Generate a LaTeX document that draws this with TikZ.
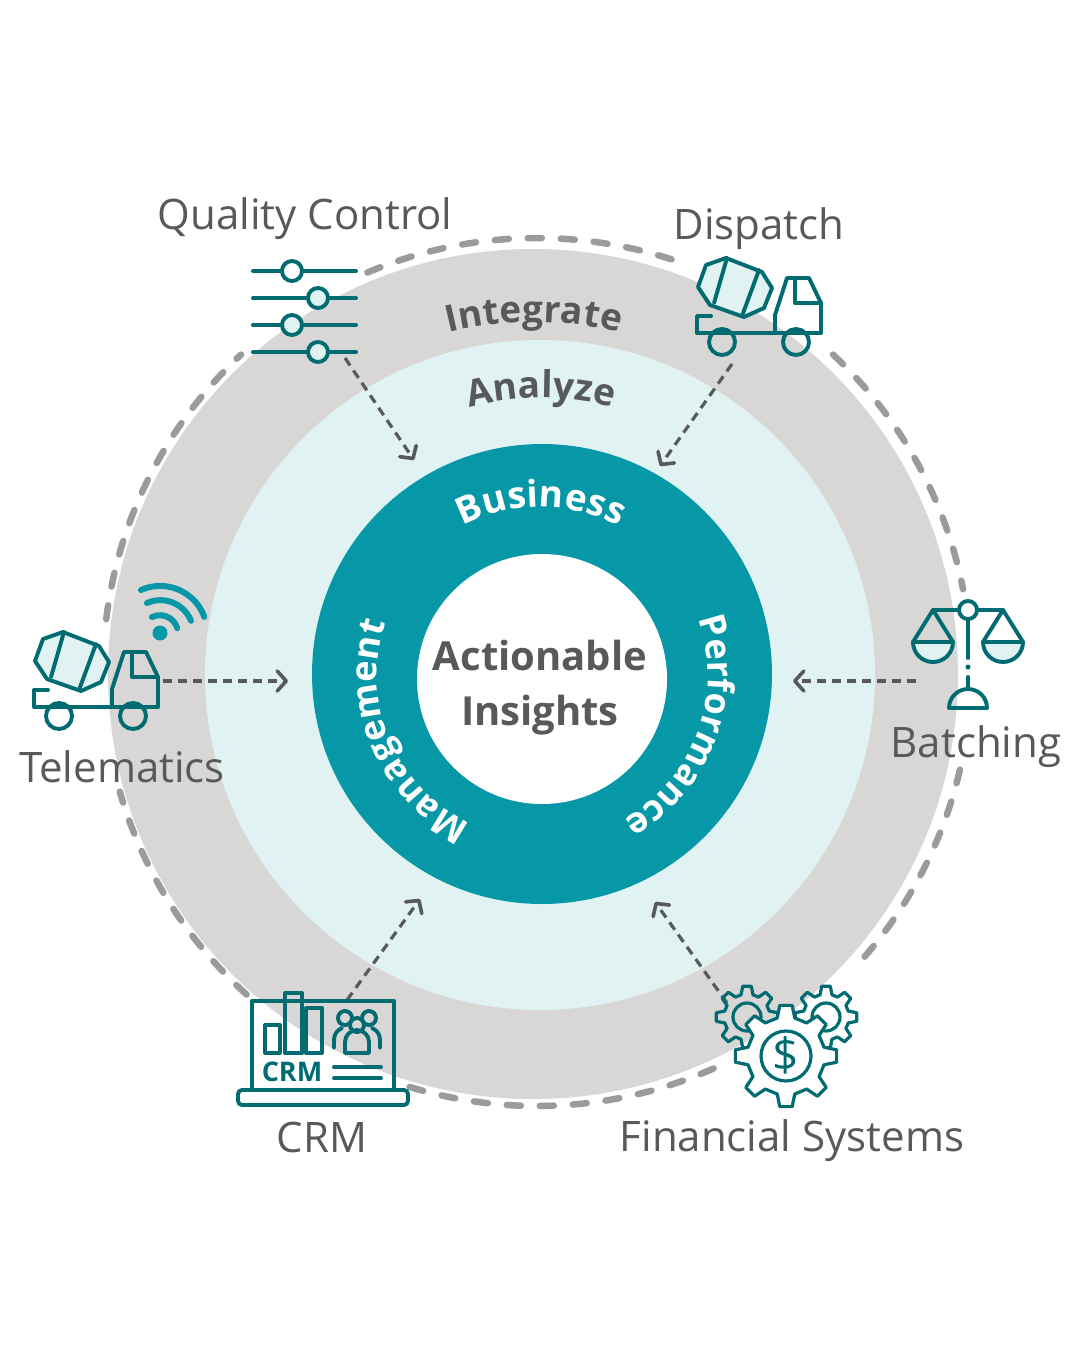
\documentclass[tikz,border=0pt]{standalone}
\usepackage{fontspec}
\setmainfont{Open Sans}
\usepackage{xcolor}
\usepackage{tikz}
\usetikzlibrary{arrows.meta}
\usetikzlibrary{decorations.text}

\definecolor{ringgrey}{HTML}{D9D7D6}
\definecolor{ringpale}{HTML}{E0F2F2}
\definecolor{ringteal}{HTML}{0798A8}
\definecolor{icondark}{HTML}{006B70}
\definecolor{dashgrey}{HTML}{9B9B9D}
\definecolor{inkgrey}{HTML}{58595B}

\newcommand{\ringfont}{\fontsize{40}{42}\selectfont\bfseries}
\newcommand{\curvefont}{\fontsize{37}{39}\selectfont\bfseries}
\newcommand{\sidefont}{\fontsize{36}{38}\selectfont\bfseries}

\begin{document}
\begin{tikzpicture}[x=1pt, y=-1pt,
    sourcelabel/.style={font=\fontsize{42}{44}\selectfont, text=inkgrey, inner sep=0pt},
    centrelabel/.style={font=\ringfont, text=inkgrey, inner sep=0pt},
    feed/.style={draw=inkgrey, line width=3.2pt, dash pattern=on 9pt off 6pt, -{Straight Barb[length=9pt,width=20pt,line width=3.6pt,round]}},
    dashring/.style={draw=dashgrey, line width=6.5pt, line cap=round, dash pattern=on 14pt off 19pt},
    iconline/.style={draw=icondark, line width=3.9pt, line join=round, line cap=round},
    ringtext/.style n args={3}{decorate, decoration={text along path, text align=center, text={|#1\color{#2}|#3}}},
    mixer/.pic={
        \draw[iconline, fill=ringpale] (2,30) -- (10,8) -- (30,1) -- (66,15) -- (76,31) -- (68,51) -- (48,60) -- (14,48) -- cycle;
        \draw[iconline] (31,1) -- (18,46);
        \draw[iconline] (63,13) -- (46,59);
        \draw[iconline] (79,76) -- (79,58) -- (91,21) -- (113,21) -- (125,46) -- (125,76);
        \draw[iconline] (99,21) -- (99,46) -- (125,46);
        \draw[iconline] (15,59) -- (1,59) -- (1,76) -- (125,76);
        \draw[iconline] (26,85) circle (13pt);
        \draw[iconline] (100,85) circle (13pt);
    }]
    \useasboundingbox (0,0) rectangle (1080,1350);
    \fill[white] (0,0) rectangle (1080,1350);

    % rings
    \fill[ringgrey] (533,674) circle (425pt);
    \fill[ringpale] (540,675) circle (335pt);
    \fill[ringteal] (542,674) circle (230pt);
    \fill[white] (542,679) circle (125pt);

    % outer dashes, broken at the icons
    \foreach \from/\to in {113/70, 47/11, -13/-43, -66/-108, 228/196, 173/133}
        \draw[dashring] ([shift={(537,672)}]\from:434pt) arc[start angle=\from, end angle=\to, radius=434pt];

    % ring words
    \path[ringtext={\curvefont}{inkgrey}{Integrate}] ([shift={(534,675)}]114:353pt) arc[start angle=114, end angle=66, radius=353pt];
    \path[ringtext={\curvefont}{inkgrey}{Analyze}] ([shift={(541,675)}]120:277pt) arc[start angle=120, end angle=60, radius=277pt];
    \path[ringtext={\curvefont}{white}{Business}] ([shift={(541,675)}]130:168pt) arc[start angle=130, end angle=50, radius=168pt];
    \path[ringtext={\sidefont}{white}{Performance}] ([shift={(542,675)}]37:166pt) arc[start angle=37, end angle=-78, radius=166pt];
    \path[ringtext={\sidefont}{white}{Management}] ([shift={(542,675)}]258:165pt) arc[start angle=258, end angle=148, radius=165pt];

    \node[centrelabel] (action) at (540,655) {Actionable};
    \node[centrelabel] (insight) at (540,715) {Insights};

    % arrow ends
    \coordinate (qcout) at (345,358);
    \coordinate (qcin) at (414,460);
    \coordinate (dispout) at (732,364);
    \coordinate (dispin) at (660,466);
    \coordinate (teleout) at (163,681);
    \coordinate (telein) at (288,681);
    \coordinate (batchout) at (916,681);
    \coordinate (batchin) at (793,681);
    \coordinate (crmout) at (347,1000);
    \coordinate (crmin) at (420,899);
    \coordinate (finout) at (727,1003);
    \coordinate (finin) at (655,902);
    \draw[feed] (qcout) -- (qcin);
    \draw[feed] (dispout) -- (dispin);
    \draw[feed] (teleout) -- (telein);
    \draw[feed] (batchout) -- (batchin);
    \draw[feed] (crmout) -- (crmin);
    \draw[feed] (finout) -- (finin);

    % quality control sliders
    \foreach \ypos/\xpos/\shade in {271/292/white, 298/318/ringpale, 325/292/ringpale, 352/318/ringpale} {
        \draw[iconline, line width=4pt] (253,\ypos) -- (356,\ypos);
        \draw[iconline, fill=\shade] (\xpos,\ypos) circle (10pt);
    }

    % trucks
    \pic (dispatch) at (696,257) {mixer};
    \pic (telematics) at (33,631) {mixer};

    % wifi
    \fill[ringteal] (160,633) circle (7.5pt);
    \draw[ringteal, line width=6pt, line cap=round] (141,590) arc[start angle=114, end angle=20, radius=47pt];
    \draw[ringteal, line width=6pt, line cap=round] (147,603) arc[start angle=114, end angle=22, radius=33pt];
    \draw[ringteal, line width=6pt, line cap=round] (152,617) arc[start angle=116, end angle=16, radius=18pt];

    % batching scales
    \draw[iconline, fill=ringpale] (913,642) arc[start angle=180, end angle=360, radius=20pt] -- cycle;
    \draw[iconline, fill=ringpale] (983,642) arc[start angle=180, end angle=360, radius=20pt] -- cycle;
    \draw[iconline] (913,642) -- (933,610) -- (953,642);
    \draw[iconline] (983,642) -- (1003,610) -- (1023,642);
    \draw[iconline] (933,610) -- (1003,610);
    \draw[iconline, fill=white] (968,610) circle (9pt);
    \draw[iconline] (968,619) -- (968,658);
    \fill[icondark] (968,667) circle (2.5pt);
    \draw[iconline] (968,677) -- (968,688);
    \draw[iconline] (949,708) arc[start angle=180, end angle=0, radius=19pt] -- cycle;

    % crm laptop
    \draw[iconline] (252,1089) -- (252,1001) -- (394,1001) -- (394,1089);
    \draw[iconline, rounded corners=4pt] (238,1090) -- (408,1090) -- (408,1105) -- (238,1105) -- cycle;
    \draw[iconline] (265,1025) rectangle (280,1053);
    \draw[iconline] (285,993) rectangle (302,1053);
    \draw[iconline] (306,1008) rectangle (322,1053);
    \draw[iconline] (345,1018) circle (7pt);
    \draw[iconline] (369,1018) circle (7pt);
    \draw[iconline] (334,1048) -- (334,1040) .. controls (334,1033) and (338,1030) .. (342,1028);
    \draw[iconline] (380,1048) -- (380,1040) .. controls (380,1033) and (376,1030) .. (372,1028);
    \draw[iconline] (345,1053) -- (345,1042) arc[start angle=180, end angle=0, radius=12pt] -- (369,1053) -- cycle;
    \draw[iconline] (357,1025) circle (7pt);
    \node[inner sep=0pt, text=icondark, font=\fontsize{27}{28}\selectfont\bfseries] (crmword) at (292,1072) {CRM};
    \draw[iconline] (334,1067) -- (381,1067);
    \draw[iconline] (334,1078) -- (381,1078);

    % financial gears
    \foreach \cx in {747,826} {
        \draw[iconline, line width=3.2pt] (\cx,1017) circle (14pt);
        \draw[iconline, line width=3.2pt] ([shift={(\cx,1017)}]-15:23pt) \foreach \ang in {0,45,...,315} {
            -- ([shift={(\cx,1017)}]\ang-15:23pt) -- ([shift={(\cx,1017)}]\ang-8:31pt) -- ([shift={(\cx,1017)}]\ang+8:31pt) -- ([shift={(\cx,1017)}]\ang+15:23pt)
        } -- cycle;
    }
    \draw[iconline, line width=3.2pt, fill=white] ([shift={(786,1056)}]-13:39pt) \foreach \ang in {0,45,...,315} {
        -- ([shift={(786,1056)}]\ang-13:39pt) -- ([shift={(786,1056)}]\ang-7:51pt) -- ([shift={(786,1056)}]\ang+7:51pt) -- ([shift={(786,1056)}]\ang+13:39pt)
    } -- cycle;
    \draw[iconline, line width=3.2pt] (786,1056) circle (25pt);
    \node[inner sep=0pt, text=icondark, font=\fontsize{46}{48}\selectfont] (dollar) at (786,1055) {\$};

    % source labels
    \node[sourcelabel] (qclabel) at (305,219) {Quality Control};
    \node[sourcelabel] (displabel) at (759,229) {Dispatch};
    \node[sourcelabel] (telelabel) at (122,767) {Telematics};
    \node[sourcelabel] (batchlabel) at (976,747) {Batching};
    \node[sourcelabel] (crmlabel) at (322,1137) {CRM};
    \node[sourcelabel] (finlabel) at (792,1141) {Financial Systems};
\end{tikzpicture}
\end{document}
